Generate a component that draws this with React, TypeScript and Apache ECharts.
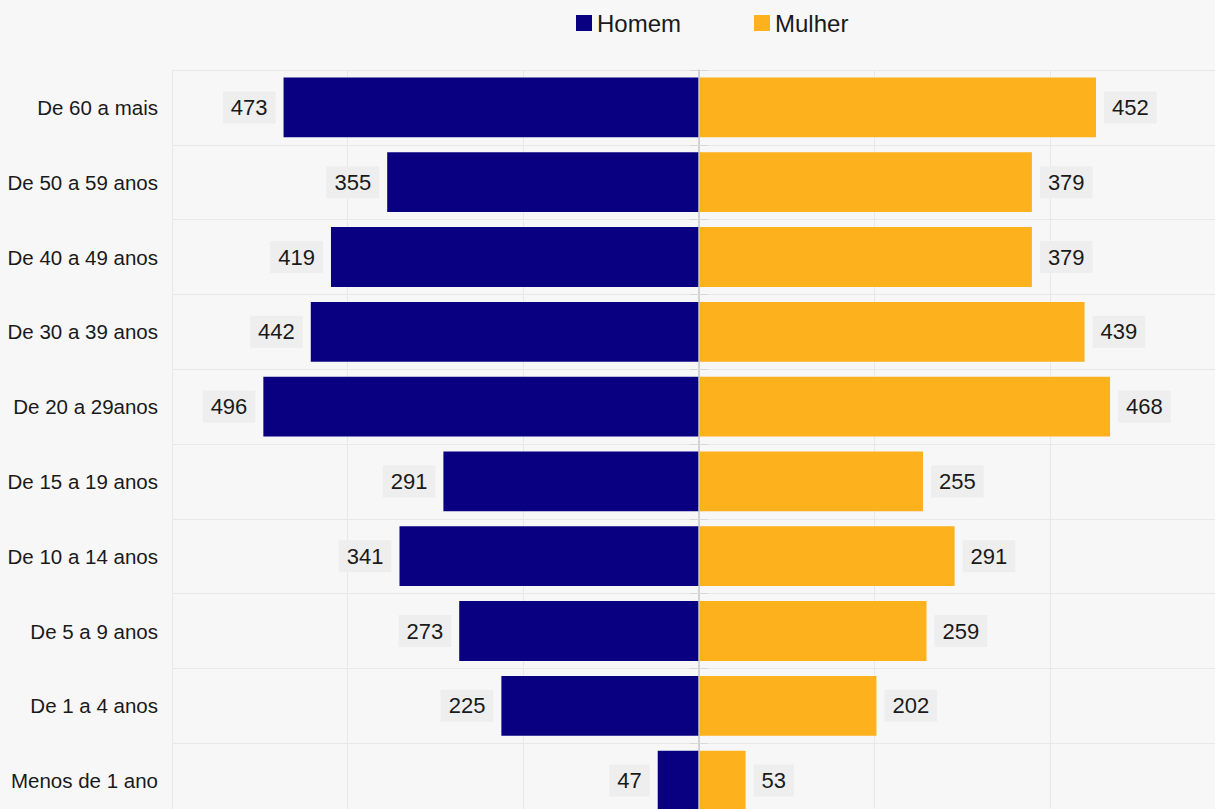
import React, { useEffect, useRef } from "react";
import * as echarts from "echarts";

const categories = [
  "De 60 a mais",
  "De 50 a 59 anos",
  "De 40 a 49 anos",
  "De 30 a 39 anos",
  "De 20 a 29anos",
  "De 15 a 19 anos",
  "De 10 a 14 anos",
  "De 5 a 9 anos",
  "De 1 a 4 anos",
  "Menos de 1 ano",
];
const homem = [473, 355, 419, 442, 496, 291, 341, 273, 225, 47];
const mulher = [452, 379, 379, 439, 468, 255, 291, 259, 202, 53];

const FONT = "'Liberation Sans', Arial, sans-serif";

export default function App() {
  const ref = useRef<HTMLDivElement>(null);
  useEffect(() => {
    document.body.style.margin = "0";
    const chart = echarts.init(ref.current!, null, { renderer: "svg" });
    const labelStyle = {
      show: true,
      fontSize: 22,
      fontFamily: FONT,
      color: "#1a1a1a",
      backgroundColor: "#eeeeee",
      padding: [5, 8, 5, 8],
      distance: 8,
    };
    const centerOffset = -527;
    chart.setOption({
      animation: false,
      backgroundColor: "#f7f7f7",
      textStyle: { fontFamily: FONT },
      legend: {
        left: 571,
        top: 6,
        icon: "rect",
        itemWidth: 16,
        itemHeight: 16,
        itemGap: 73,
        textStyle: { fontSize: 24, color: "#1a1a1a", fontFamily: FONT },
        data: ["Homem", "Mulher"],
      },
      grid: {
        left: 172,
        top: 70,
        right: -11,
        bottom: -9,
        containLabel: false,
        outerBoundsMode: "none",
      },
      xAxis: {
        type: "value",
        min: -600,
        max: 600,
        interval: 200,
        axisLabel: { show: false },
        axisLine: { show: false },
        axisTick: { show: false },
        splitLine: { show: true, lineStyle: { color: "#e8e8e8", width: 1 } },
      },
      yAxis: [
        {
          type: "category",
          data: categories,
          inverse: true,
          position: "left",
          axisLine: { show: false, onZero: false },
          axisTick: { show: false },
          axisLabel: { fontSize: 20.5, color: "#1a1a1a", margin: 14, fontFamily: FONT },
          splitLine: { show: true, lineStyle: { color: "#e8e8e8", width: 1 } },
        },
        {
          type: "category",
          data: categories,
          inverse: true,
          position: "left",
          offset: centerOffset,
          axisLine: { show: true, onZero: false, lineStyle: { color: "#c8c8c8", width: 1.5 } },
          axisTick: { show: true, length: 9, lineStyle: { color: "#d8d8d8" } },
          axisLabel: { show: false },
          splitLine: { show: false },
          z: 5,
        },
        {
          type: "category",
          data: categories,
          inverse: true,
          position: "left",
          offset: centerOffset,
          axisLine: { show: false, onZero: false },
          axisTick: { show: true, inside: true, length: 9, lineStyle: { color: "#d8d8d8" } },
          axisLabel: { show: false },
          splitLine: { show: false },
          z: 5,
        },
      ],
      series: [
        {
          name: "Homem",
          type: "bar",
          stack: "total",
          yAxisIndex: 0,
          barWidth: "80%",
          itemStyle: { color: "#080080" },
          label: { ...labelStyle, position: "left", formatter: (p: any) => String(Math.abs(p.value)) },
          data: homem.map((v) => -v),
          z: 3,
        },
        {
          name: "Mulher",
          type: "bar",
          stack: "total",
          yAxisIndex: 0,
          barWidth: "80%",
          itemStyle: { color: "#fdb11d" },
          label: { ...labelStyle, position: "right" },
          data: mulher,
          z: 3,
        },
      ],
    });
    return () => chart.dispose();
  }, []);
  return <div ref={ref} style={{ width: 1215, height: 809 }} />;
}
